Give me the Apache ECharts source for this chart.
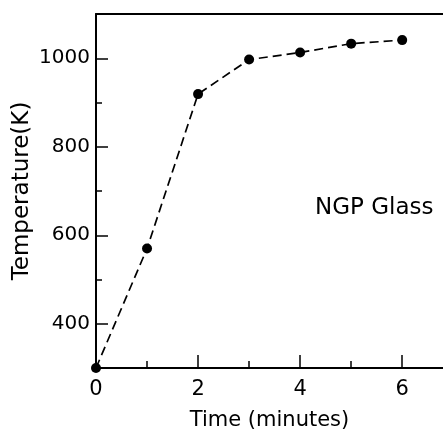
<!DOCTYPE html>
<html><head><meta charset="utf-8">
<script src="https://cdn.jsdelivr.net/npm/echarts@6/dist/echarts.min.js"></script>
<style>html,body{margin:0;padding:0;background:#fff}#c{width:443px;height:432px}</style>
</head><body><div id="c"></div>
<script>
const timeMin = [0, 1, 2, 3, 4, 5, 6];
const tempK = [300, 570, 919, 997, 1013, 1033, 1041];
const xMajorTicks = [0, 2, 4, 6];
const xMinorTicks = [1, 3, 5];
const yMajorTicks = [400, 600, 800, 1000];
const yMinorTicks = [500, 700, 900];
const FONT = 'DejaVu Sans';

const chart = echarts.init(document.getElementById('c'), null, {renderer: 'canvas'});
const axisBase = {type: 'value', splitLine: {show: false}};
chart.setOption({
  animation: false,
  backgroundColor: '#fff',
  title: {text: 'NGP Glass', left: 315, top: 197, padding: 0,
    textStyle: {fontFamily: FONT, fontSize: 23, fontWeight: 'normal', color: '#000'}},
  grid: {left: 96, right: 0, top: 14, bottom: 64, containLabel: false, outerBoundsMode: 'none'},
  xAxis: [
    Object.assign({}, axisBase, {min: 0, max: 6.8,
      name: 'Time (minutes)', nameLocation: 'middle', nameGap: 42, nameMoveOverlap: false,
      nameTextStyle: {fontFamily: FONT, fontSize: 21, color: '#000'},
      axisLine: {show: true, onZero: false, lineStyle: {color: '#000', width: 2}},
      axisTick: {show: true, inside: true, length: 13, customValues: xMajorTicks, lineStyle: {color: '#000', width: 1.5}},
      axisLabel: {customValues: xMajorTicks, margin: 11, fontFamily: FONT, fontSize: 21, color: '#000',
        formatter: v => String(v)}}),
    Object.assign({}, axisBase, {min: 0, max: 6.8, position: 'bottom',
      axisLine: {show: false},
      axisTick: {show: true, inside: true, length: 7, customValues: xMinorTicks, lineStyle: {color: '#000', width: 1.5}},
      axisLabel: {show: false}}),
    Object.assign({}, axisBase, {min: 0, max: 6.8, position: 'top',
      axisLine: {show: true, lineStyle: {color: '#000', width: 2}},
      axisTick: {show: false}, axisLabel: {show: false}})
  ],
  yAxis: [
    Object.assign({}, axisBase, {min: 300, max: 1100,
      name: 'Temperature(K)', nameLocation: 'middle', nameGap: 62, nameMoveOverlap: false,
      nameTextStyle: {fontFamily: FONT, fontSize: 23, color: '#000'},
      axisLine: {show: true, onZero: false, lineStyle: {color: '#000', width: 2}},
      axisTick: {show: true, inside: true, length: 12, customValues: yMajorTicks, lineStyle: {color: '#000', width: 1.5}},
      axisLabel: {customValues: yMajorTicks, margin: 6, fontFamily: FONT, fontSize: 20, color: '#000',
        formatter: v => String(v)}}),
    Object.assign({}, axisBase, {min: 300, max: 1100, position: 'left',
      axisLine: {show: false},
      axisTick: {show: true, inside: true, length: 6, customValues: yMinorTicks, lineStyle: {color: '#000', width: 1.5}},
      axisLabel: {show: false}})
  ],
  series: [{
    type: 'line', xAxisIndex: 0, yAxisIndex: 0,
    data: timeMin.map((t, i) => [t, tempK[i]]),
    symbol: 'circle', symbolSize: 10,
    itemStyle: {color: '#000'},
    lineStyle: {color: '#000', width: 1.7, type: [9, 5]},
    clip: false
  }]
});
</script></body></html>
